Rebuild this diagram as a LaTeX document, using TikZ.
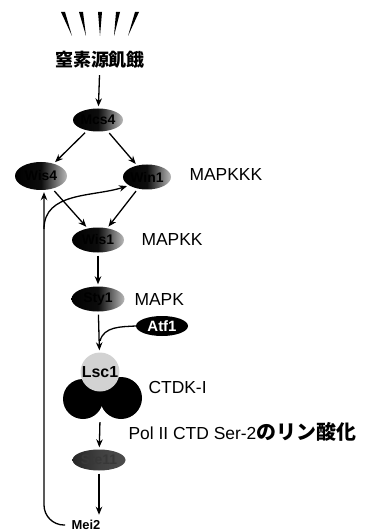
\documentclass[tikz,border=0pt]{standalone}
\usepackage{fontspec}
\setmainfont{Liberation Sans}
\newfontfamily\jp{Noto Sans CJK JP}
\usetikzlibrary{arrows.meta, shapes.geometric}
\tikzset{
	>={Stealth[length=8bp, width=6.5bp]}, % puntas de flecha gruesas
	flecha/.style={->, line width=1.3bp, shorten >=2bp, shorten <=3bp}, % conectores
	kinasa/.style={ellipse, minimum width=52bp, minimum height=25bp, inner sep=0pt,
		left color=black, right color=gray!55, middle color=black!95,
		font=\bfseries\fontsize{14}{14}\selectfont}, % quinasas
	etiqueta/.style={anchor=west, font=\fontsize{17.5}{18}\selectfont} % textos a la derecha
}

\begin{document}
\begin{tikzpicture}[x=1bp, y=-1bp]
	\useasboundingbox (0,0) rectangle (370,531);
	% rayos de la senal
	\foreach \xa/\xb in {63/72, 81/86, 100/100, 118/114, 137/128}
		\fill (\xa-2,12) -- (\xa+2,12) -- (\xb,36) -- cycle;
	\node[font=\jp\bfseries\fontsize{18}{18}\selectfont] (hambre) at (100,60) {窒素源飢餓};
	\node[kinasa, minimum width=50bp, minimum height=23bp] (mcs4) at (98,120) {Mcs4};
	\node[kinasa, minimum height=28bp] (wis4) at (41,176) {Wis4};
	\node[kinasa, minimum width=48bp] (win1) at (147,177) {Win1};
	\node[kinasa] (wis1) at (98,240) {Wis1};
	\node[kinasa, minimum width=53bp] (sty1) at (98,299) {Sty1};
	\node[ellipse, fill=black, text=white, minimum width=52bp, minimum height=20bp, inner sep=0pt,
		font=\bfseries\fontsize{15}{15}\selectfont] (atf1) at (162,326) {Atf1};
	\node[circle, fill=black, minimum size=40bp] (ctdkA) at (83,399) {};
	\node[circle, fill=black, minimum size=42bp] (ctdkB) at (121,398) {};
	\node[circle, fill=gray!35, minimum size=39bp, inner sep=0pt,
		font=\bfseries\fontsize{16}{16}\selectfont] (lsc1) at (100,372) {Lsc1};
	\node[kinasa, left color=black!85, right color=black!70, middle color=black!75, minimum width=53bp,
		minimum height=21bp, text=black!78] (ste11) at (99,460) {Ste11};
	\node[font=\bfseries\fontsize{13}{13}\selectfont] (mei2) at (86,525) {Mei2};
	% etiquetas
	\node[etiqueta] (mapkkk) at (186,175) {MAPKKK};
	\node[etiqueta] (mapkk) at (138,240) {MAPKK};
	\node[etiqueta] (mapk) at (131,300) {MAPK};
	\node[etiqueta] (ctdk) at (145,387) {CTDK-I};
	\node[etiqueta] (pol) at (125,432) {Pol II CTD Ser-2{\jp\bfseries\fontsize{20}{20}\selectfont のリン酸化}};
	\coordinate (union) at (100,341);
	\coordinate (rama) at (44,229);
	\draw[flecha] (hambre) -- (mcs4);
	\draw[flecha] (mcs4) -- (wis4);
	\draw[flecha] (mcs4) -- (win1);
	\draw[flecha] (wis4) -- (wis1);
	\draw[flecha] (win1) -- (wis1);
	\draw[flecha] (wis1) -- (sty1);
	\draw[flecha] (sty1) -- (lsc1);
	\draw[line width=1.3bp] (atf1.west) to[out=183, in=75] (union);
	\draw[flecha] (lsc1 |- ctdkA.south) -- (ste11);
	\draw[flecha] (ste11) -- (ste11 |- mei2.north);
	\draw[flecha, rounded corners=20bp] (mei2.west) -| ([xshift=3bp]wis4.south);
	\draw[flecha, shorten <=0bp] (rama) to[out=90, in=198] (win1.205);
\end{tikzpicture}
\end{document}
